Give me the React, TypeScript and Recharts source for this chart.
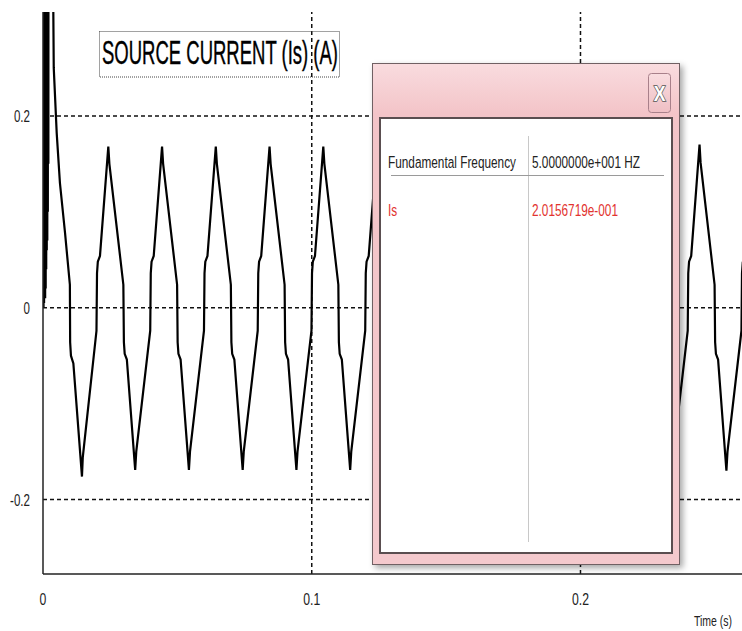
import React from "react";
import { Line, LineChart, ReferenceLine, XAxis, YAxis } from "recharts";

// time (s) of each sample
const timeS = [
  0, 0.0001, 0.0002, 0.0003, 0.0004, 0.0005, 0.0006, 0.0007, 0.0008, 0.0009, 0.001,
  0.0011, 0.0012, 0.0013, 0.0014, 0.0015, 0.0016, 0.0017, 0.0018, 0.0019, 0.002, 0.0021,
  0.0037, 0.004, 0.0051, 0.0063, 0.0082, 0.01, 0.0101, 0.0104, 0.0113, 0.0145, 0.0148, 0.0199,
  0.0201, 0.0204, 0.0212, 0.0243, 0.0247, 0.0299, 0.0301, 0.0304, 0.0312, 0.0343, 0.0347, 0.0399,
  0.0401, 0.0404, 0.0412, 0.0443, 0.0447, 0.0499, 0.0501, 0.0504, 0.0512, 0.0543, 0.0547, 0.0599,
  0.0601, 0.0604, 0.0612, 0.0643, 0.0647, 0.0699, 0.0701, 0.0704, 0.0712, 0.0743, 0.0747, 0.0799,
  0.0801, 0.0804, 0.0812, 0.0843, 0.0847, 0.0899, 0.0901, 0.0904, 0.0912, 0.0943, 0.0947, 0.0999,
  0.1001, 0.1004, 0.1012, 0.1043, 0.1047, 0.1099, 0.1101, 0.1104, 0.1112, 0.1143, 0.1147, 0.1199,
  0.1201, 0.1204, 0.1212, 0.1243, 0.1247, 0.1299, 0.1301, 0.1304, 0.1312, 0.1343, 0.1347, 0.1399,
  0.1401, 0.1404, 0.1412, 0.1443, 0.1447, 0.1499, 0.1501, 0.1504, 0.1512, 0.1543, 0.1547, 0.1599,
  0.1601, 0.1604, 0.1612, 0.1643, 0.1647, 0.1699, 0.1701, 0.1704, 0.1712, 0.1743, 0.1747, 0.1799,
  0.1801, 0.1804, 0.1812, 0.1843, 0.1847, 0.1899, 0.1901, 0.1904, 0.1912, 0.1943, 0.1947, 0.1999,
  0.2001, 0.2004, 0.2012, 0.2043, 0.2047, 0.2099, 0.2101, 0.2104, 0.2112, 0.2143, 0.2147, 0.2199,
  0.2201, 0.2204, 0.2212, 0.2243, 0.2247, 0.2299, 0.2301, 0.2304, 0.2312, 0.2343, 0.2347, 0.2399,
  0.2401, 0.2404, 0.2412, 0.2443, 0.2447, 0.2499, 0.2501, 0.2504, 0.2512, 0.2543, 0.2547, 0.2599,
  0.2601, 0.2604,
];

// source current Is (A), same order as timeS
const sourceCurrentA = [
  0, 0.9, 0, 0.9, 0.005, 0.9, 0.01, 0.9, 0.01, 0.9, 0.02,
  0.9, 0.04, 0.9, 0.06, 0.9, 0.07, 0.9, 0.1, 0.9, 0.15, 0.9,
  0.36, 0.25, 0.182, 0.13, 0.078, 0.024, -0.036, -0.05, -0.058, -0.176, -0.156, -0.024,
  0.036, 0.048, 0.054, 0.168, 0.15, 0.024, -0.036, -0.048, -0.054, -0.169, -0.15, -0.024,
  0.036, 0.048, 0.054, 0.168, 0.15, 0.024, -0.036, -0.048, -0.054, -0.169, -0.15, -0.024,
  0.036, 0.048, 0.054, 0.168, 0.15, 0.024, -0.036, -0.048, -0.054, -0.169, -0.15, -0.024,
  0.036, 0.048, 0.054, 0.168, 0.15, 0.024, -0.036, -0.048, -0.054, -0.169, -0.15, -0.024,
  0.036, 0.048, 0.054, 0.168, 0.15, 0.024, -0.036, -0.048, -0.054, -0.169, -0.15, -0.024,
  0.036, 0.048, 0.054, 0.168, 0.15, 0.024, -0.036, -0.048, -0.054, -0.169, -0.15, -0.024,
  0.036, 0.048, 0.054, 0.168, 0.15, 0.024, -0.036, -0.048, -0.054, -0.169, -0.15, -0.024,
  0.036, 0.048, 0.054, 0.168, 0.15, 0.024, -0.036, -0.048, -0.054, -0.169, -0.15, -0.024,
  0.036, 0.048, 0.054, 0.168, 0.15, 0.024, -0.036, -0.048, -0.054, -0.169, -0.15, -0.024,
  0.036, 0.048, 0.054, 0.168, 0.15, 0.024, -0.036, -0.048, -0.054, -0.169, -0.15, -0.024,
  0.036, 0.048, 0.054, 0.168, 0.15, 0.024, -0.036, -0.048, -0.054, -0.169, -0.15, -0.024,
  0.036, 0.048, 0.054, 0.17, 0.151, 0.024, -0.036, -0.048, -0.054, -0.17, -0.15, -0.024,
  0.036, 0.048,
];

const xTicks = [0, 0.1, 0.2];
const yTicks = [-0.2, 0, 0.2];
const gridX = [0.1, 0.2];
const gridY = [0.2, 0, -0.2];

const title = "SOURCE CURRENT (Is) (A)";
const xLabel = "Time (s)";
const fftHeader = ["Fundamental Frequency", "5.0000000e+001 HZ"];
const fftRow = ["Is", "2.0156719e-001"];

const data = timeS.map((t, i) => ({ t, is: sourceCurrentA[i] }));

const FONT = "'Liberation Sans', Arial, sans-serif";

function XTick({ x, payload }: any) {
  return (
    <g transform={`translate(${x},605) scale(0.72,1)`}>
      <text textAnchor="middle" fontSize={17} fill="#222" fontFamily={FONT}>
        {String(payload.value)}
      </text>
    </g>
  );
}

function YTick({ y, payload }: any) {
  return (
    <g transform={`translate(30,${y + 6}) scale(0.7,1)`}>
      <text textAnchor="end" fontSize={16.5} fill="#222" fontFamily={FONT}>
        {String(payload.value)}
      </text>
    </g>
  );
}

function Overlay() {
  return (
    <svg
      width={742}
      height={631}
      style={{ position: "absolute", left: 0, top: 0, pointerEvents: "none" }}
    >
      <defs>
        <linearGradient id="pinkFrame" x1="0" y1="0" x2="0" y2="1">
          <stop offset="0%" stopColor="#f9dcdf" />
          <stop offset="10%" stopColor="#f3c4c8" />
          <stop offset="100%" stopColor="#f4c9cd" />
        </linearGradient>
        <linearGradient id="closeBtn" x1="0" y1="0" x2="0" y2="1">
          <stop offset="0%" stopColor="#f9dde0" />
          <stop offset="100%" stopColor="#efbfc4" />
        </linearGradient>
        <filter id="shadow" x="-5%" y="-5%" width="115%" height="115%">
          <feDropShadow dx="3" dy="3" stdDeviation="3" floodColor="#000" floodOpacity="0.35" />
        </filter>
      </defs>

      {/* title box */}
      <rect x={99.5} y={31.5} width={240} height={45.5} fill="none" stroke="#444" strokeWidth={1} strokeDasharray="1 1" />
      <text x={102} y={64} fontSize={33} fontFamily={FONT} fill="#000" stroke="#000" strokeWidth={0.4} textLength={236} lengthAdjust="spacingAndGlyphs">
        {title}
      </text>

      {/* axis title */}
      <g transform="translate(713,626) scale(0.7,1)">
        <text textAnchor="middle" fontSize={15} fill="#222" fontFamily={FONT}>
          {xLabel}
        </text>
      </g>

      {/* FFT popup */}
      <rect x={372.5} y={63.5} width={307} height={501} fill="url(#pinkFrame)" stroke="#6f6163" strokeWidth={1} filter="url(#shadow)" />
      <rect x={648.5} y={73.5} width={22} height={39} rx={3} fill="url(#closeBtn)" stroke="#a8808a" strokeWidth={1} />
      <g transform="translate(659.5,101) scale(0.8,1)">
        <text textAnchor="middle" fontSize={22} fontWeight="bold" fontFamily={FONT} fill="#fff" stroke="#555" strokeWidth={1.6} paintOrder="stroke">
          X
        </text>
      </g>
      <rect x={380} y={118} width={292} height={435} fill="#fff" stroke="#5a4e50" strokeWidth={2} />
      <line x1={528.5} y1={136} x2={528.5} y2={542} stroke="#c8c8c8" strokeWidth={1} />
      <line x1={391} y1={175.5} x2={664} y2={175.5} stroke="#9a9a9a" strokeWidth={1} />

      <g transform="translate(388,168) scale(0.695,1)">
        <text fontSize={17} fill="#222" fontFamily={FONT}>{fftHeader[0]}</text>
      </g>
      <g transform="translate(532,168) scale(0.695,1)">
        <text fontSize={17} fill="#222" fontFamily={FONT}>{fftHeader[1]}</text>
      </g>
      <g transform="translate(388,215.5) scale(0.695,1)">
        <text fontSize={17} fill="#e2332f" fontFamily={FONT}>{fftRow[0]}</text>
      </g>
      <g transform="translate(532,215.5) scale(0.695,1)">
        <text fontSize={17} fill="#e2332f" fontFamily={FONT}>{fftRow[1]}</text>
      </g>
    </svg>
  );
}

export default function App() {
  return (
    <div style={{ position: "absolute", left: 0, top: 0, width: 742, height: 631, background: "#fff" }}>
      <LineChart width={742} height={631} data={data} margin={{ top: 12, right: 0, bottom: 0, left: 0 }}>
        <XAxis
          dataKey="t"
          type="number"
          domain={[0, 0.2601]}
          allowDataOverflow
          ticks={xTicks}
          tick={<XTick />}
          tickLine={false}
          axisLine={{ stroke: "#222", strokeWidth: 1.5 }}
          height={57}
        />
        <YAxis
          type="number"
          domain={[-0.2776, 0.3083]}
          allowDataOverflow
          ticks={yTicks}
          tick={<YTick />}
          tickLine={false}
          axisLine={{ stroke: "#222", strokeWidth: 1.5 }}
          width={43}
        />
        {gridY.map((v) => (
          <ReferenceLine key={`y${v}`} y={v} stroke="#111" strokeWidth={1.5} strokeDasharray="4 3" />
        ))}
        {gridX.map((v) => (
          <ReferenceLine key={`x${v}`} x={v} stroke="#111" strokeWidth={1.5} strokeDasharray="4 3" />
        ))}
        <Line
          type="linear"
          dataKey="is"
          stroke="#000"
          strokeWidth={2.2}
          dot={false}
          isAnimationActive={false}
        />
      </LineChart>
      <Overlay />
    </div>
  );
}
